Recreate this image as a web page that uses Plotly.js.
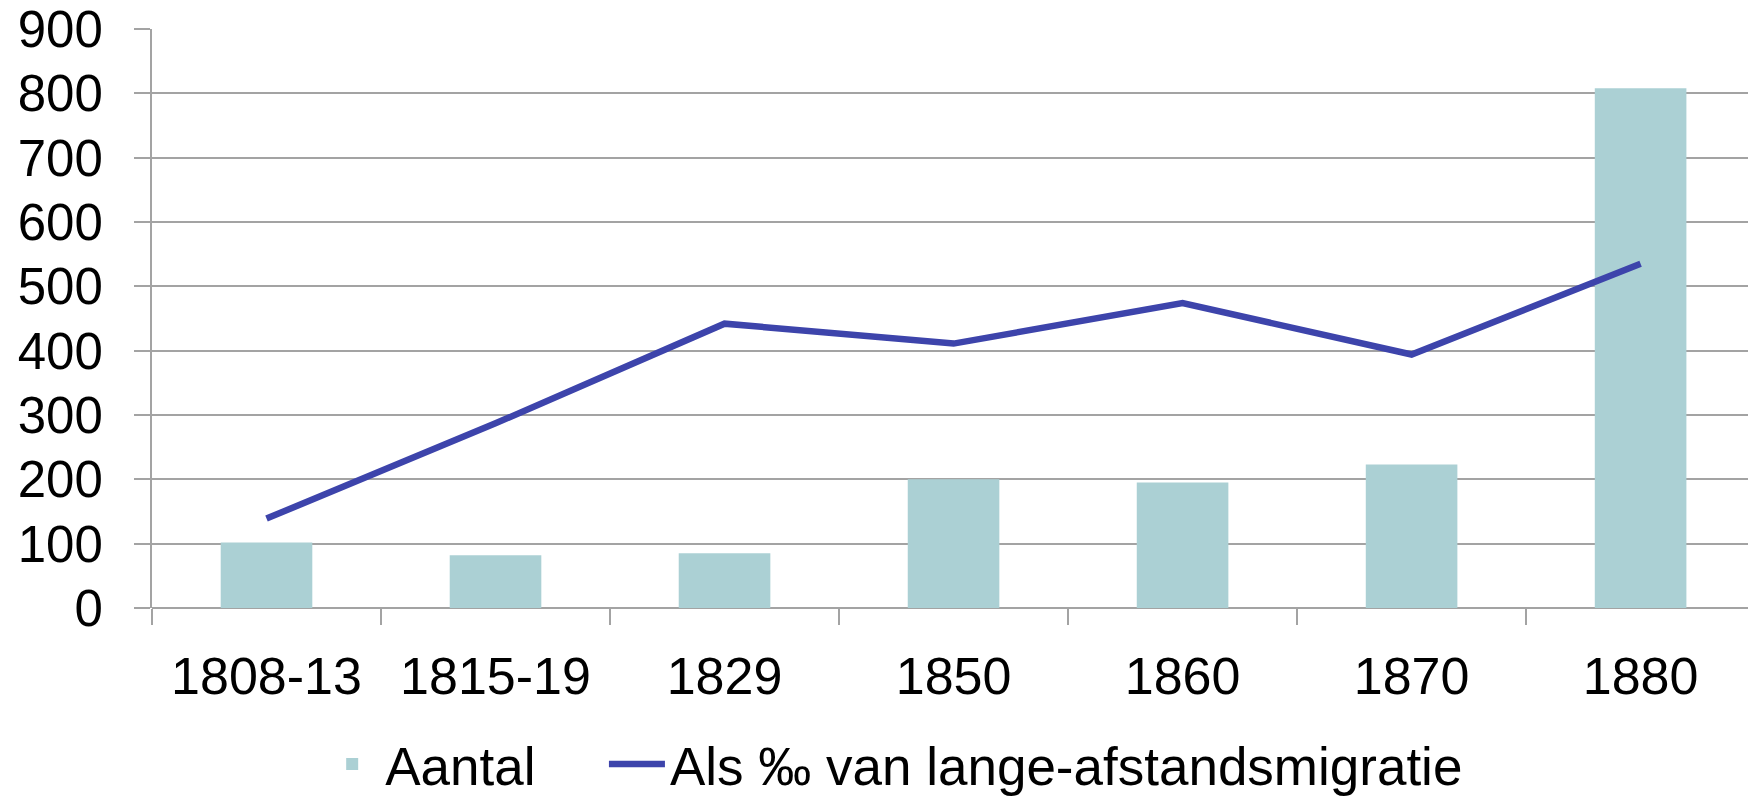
<!DOCTYPE html>
<html>
<head>
<meta charset="utf-8">
<script src="https://cdn.plot.ly/plotly-3.0.1.min.js"></script>
<style>html,body{margin:0;padding:0;background:#fff;}#chart{width:1748px;height:796px;}</style>
</head>
<body>
<div id="chart"></div>
<script>
const categories = ["1808-13", "1815-19", "1829", "1850", "1860", "1870", "1880"];
const aantal = [102, 82, 85, 200, 195, 223, 808];
const promille = [139, 287, 442, 411, 474, 394, 535];
const yTicks = [0, 100, 200, 300, 400, 500, 600, 700, 800, 900];
const seriesNames = ["Aantal", "Als ‰ van lange-afstandsmigratie"];

const FONT = "Liberation Sans, Arial, Helvetica, sans-serif";
const GRID = "#a3a3a3";

const traces = [
  {
    type: "bar",
    name: seriesNames[0],
    x: categories,
    y: aantal,
    width: 0.4,
    marker: { color: "#abd0d4", line: { width: 0 } },
    legend: "legend",
    hoverinfo: "skip"
  },
  {
    type: "scatter",
    mode: "lines",
    name: seriesNames[1],
    x: categories,
    y: promille,
    line: { color: "#3d44ab", width: 6.5 },
    legend: "legend2",
    hoverinfo: "skip"
  }
];

const legendBase = {
  orientation: "h",
  xref: "container",
  yref: "container",
  xanchor: "left",
  y: 0.04,
  yanchor: "middle",
  font: { family: FONT, size: 53, color: "#000" },
  itemwidth: 56,
  bgcolor: "rgba(0,0,0,0)"
};

const layout = {
  width: 1748,
  height: 796,
  margin: { l: 152, r: 0, t: 29, b: 188 },
  paper_bgcolor: "#ffffff",
  plot_bgcolor: "#ffffff",
  font: { family: FONT, color: "#000000" },
  showlegend: true,
  xaxis: {
    type: "category",
    categoryorder: "array",
    categoryarray: categories,
    range: [-0.5, 6.469],
    showgrid: false,
    zeroline: false,
    showline: false,
    ticks: "outside",
    tickson: "boundaries",
    ticklen: 16,
    tickwidth: 2,
    tickcolor: GRID,
    tickfont: { family: FONT, size: 52, color: "#000" },
    ticklabelstandoff: 33,
    fixedrange: true
  },
  yaxis: {
    range: [0, 900],
    tickvals: yTicks,
    ticktext: yTicks.map(String),
    showgrid: true,
    gridcolor: GRID,
    gridwidth: 2,
    zeroline: true,
    zerolinecolor: GRID,
    zerolinewidth: 2,
    showline: true,
    linecolor: GRID,
    linewidth: 2,
    ticks: "outside",
    ticklen: 16,
    tickwidth: 2,
    tickcolor: GRID,
    tickfont: { family: FONT, size: 51, color: "#000" },
    ticklabelstandoff: 21,
    fixedrange: true
  },
  legend: Object.assign({}, legendBase, { x: 0.1826 }),
  legend2: Object.assign({}, legendBase, { x: 0.3455 })
};

Plotly.newPlot("chart", traces, layout, { displayModeBar: false, staticPlot: true });
</script>
</body>
</html>
